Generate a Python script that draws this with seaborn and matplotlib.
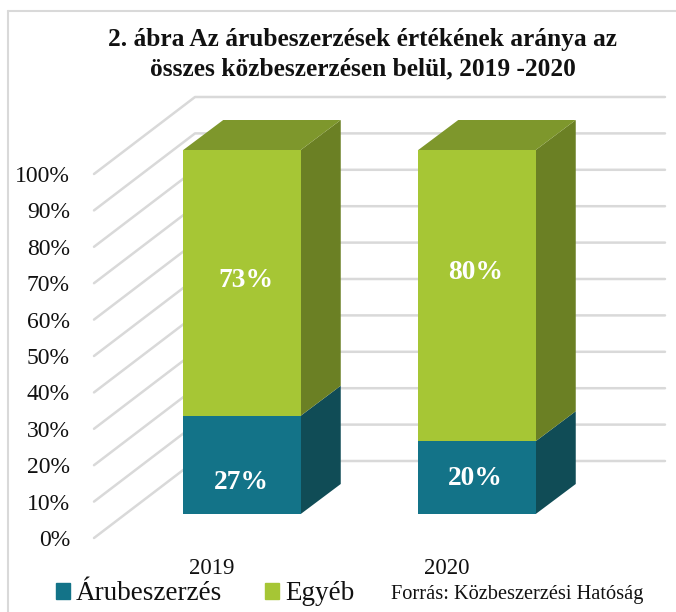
import matplotlib
matplotlib.use('Agg')
import matplotlib.pyplot as plt
from matplotlib.patches import Polygon, Patch
from matplotlib.lines import Line2D
import pandas as pd
import seaborn as sns

# data
years = ['2019', '2020']
aru = [27, 20]
egyeb = [73, 80]
ticks = [0, 10, 20, 30, 40, 50, 60, 70, 80, 90, 100]
title = '2. ábra Az árubeszerzések értékének aránya az\nösszes közbeszerzésen belül, 2019 -2020'
source = 'Forrás: Közbeszerzési Hatóság'

sns.set_theme(style='white')
plt.rcParams['font.family'] = ['Liberation Serif', 'DejaVu Serif']

W, H = 676, 612
fig = plt.figure(figsize=(W / 100, H / 100), dpi=100)
ax = fig.add_axes([0, 0, 1, 1])

# one x unit is 235 px, one percent is 3.64 px, bar plane zero at (242, 514)
PX, PY = 235, 3.64

df = pd.DataFrame({'year': years, 'aru': aru, 'egyeb': egyeb})
teal, green = '#137388', '#A6C635'
sns.barplot(data=df, x='year', y='aru', color=teal, saturation=1, width=0.5, ax=ax, zorder=3, edgecolor='none')
sns.barplot(data=df, x='year', y='egyeb', bottom=df['aru'], color=green, saturation=1, width=0.5, ax=ax, zorder=3,
            edgecolor='none')
ax.set_xlim(-242 / PX, (W - 242) / PX)
ax.set_ylim((514 - H) / PY, 514 / PY)
ax.axis('off')

# oblique offsets, all in data units
dx_bar, dy_bar = 40 / PX, 30 / PY
front_x, front_dy = (94 - 242) / PX, -24 / PY
back_x, back_dy = (195 - 242) / PX, 53 / PY
end_x = (665 - 242) / PX

# gridlines on side wall and back wall, with tick labels
for t in ticks:
    ax.plot([front_x, back_x, end_x], [t + front_dy, t + back_dy, t + back_dy],
            color='#D9D9D9', lw=1.8, solid_capstyle='round', zorder=1)
    ax.text((70 - 242) / PX, t + front_dy, f'{t}%', ha='right', va='center_baseline',
            fontsize=17, color='#111111')

# the value labels are not centred in the reference, nudge in px
nudges = [(-1, 18), (-1.5, 1), (4, -2.5), (-1.5, -23)]

# depth faces of the bars
for p, (nx, ny) in zip(ax.patches[:], nudges):
    x0, x1 = p.get_x(), p.get_x() + p.get_width()
    y0, y1 = p.get_y(), p.get_y() + p.get_height()
    is_teal = y0 == 0
    side = '#104C56' if is_teal else '#6B8024'
    ax.add_patch(Polygon([(x1, y0), (x1 + dx_bar, y0 + dy_bar), (x1 + dx_bar, y1 + dy_bar), (x1, y1)],
                         fc=side, ec='none', zorder=2.9))
    if not is_teal:
        ax.add_patch(Polygon([(x0, y1), (x0 + dx_bar, y1 + dy_bar), (x1 + dx_bar, y1 + dy_bar), (x1, y1)],
                             fc='#7E972C', ec='none', zorder=2.9))
    ax.text((x0 + x1) / 2 + nx / PX, (y0 + y1) / 2 - ny / PY, f'{y1 - y0:.0f}%', ha='center', va='center',
            color='white', fontsize=19.8, fontweight='bold', zorder=5)

# category labels sit under the floor, shifted left of the bars
for i, y in enumerate(years):
    ax.text(i - 30 / PX, (514 - 568) / PY, y, ha='center', va='center', fontsize=16.5, color='#111111')

ax.text((362.5 - 242) / PX, (514 - 54) / PY, title, ha='center', va='center', fontsize=18.3,
        fontweight='bold', color='#111111', linespacing=1.33)
ax.text((391 - 242) / PX, (514 - 594) / PY, source, ha='left', va='center', fontsize=14.7, color='#111111')

handles = [Patch(color=teal, label='Árubeszerzés'), Patch(color=green, label='Egyéb')]
fig.legend(handles=handles, loc='center left', bbox_to_anchor=(56 / W, 1 - 594 / H), ncol=2, frameon=False,
           fontsize=19.5, handlelength=0.52, handleheight=0.52, handletextpad=0.22, columnspacing=1.59,
           borderpad=0, borderaxespad=0, labelcolor='#111111')

# frame of the pasted chart
fig.add_artist(Line2D([7.5 / W, 7.5 / W], [0, 1 - 10.5 / H], color='#D9D9D9', lw=1.5))
fig.add_artist(Line2D([7.5 / W, 1], [1 - 10.5 / H, 1 - 10.5 / H], color='#D9D9D9', lw=1.5))

fig.savefig('out.png', dpi=100)
